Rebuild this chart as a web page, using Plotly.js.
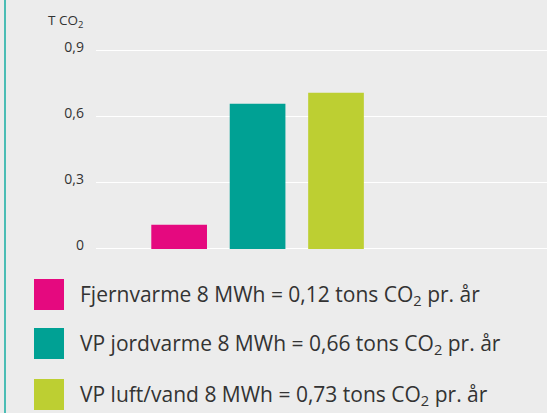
<!DOCTYPE html>
<html>
<head>
<meta charset="utf-8">
<script src="https://cdn.plot.ly/plotly-3.0.1.min.js"></script>
<style>
html,body{margin:0;padding:0;background:#ececec;}
#chart{width:547px;height:413px;}
</style>
</head>
<body>
<div id="chart"></div>
<script>
// Data
const categories = ["Fjernvarme", "VP jordvarme", "VP luft/vand"];
const values = [0.11, 0.66, 0.71];
const colors = ["#e5097f", "#00a194", "#bdcf32"];
const legendLabels = [
  "Fjernvarme 8 MWh = 0,12 tons CO<sub>2</sub> pr. år",
  "VP jordvarme 8 MWh = 0,66 tons CO<sub>2</sub> pr. år",
  "VP luft/vand 8 MWh = 0,73 tons CO<sub>2</sub> pr. år"
];
const tickVals = [0, 0.3, 0.6, 0.9];
const tickText = ["0", "0,3", "0,6", "0,9"];
const yTitle = "T CO<sub>2</sub>";

// Geometry helpers (pixel -> paper)
const W = 547, H = 413;
const mL = 96, mR = 0, mT = 40, mB = 163;
const pw = W - mL - mR, ph = H - mT - mB;
const px = x => (x - mL) / pw;
const py = y => (H - mB - y) / ph;

const FONT = "Open Sans, sans-serif";
const TXT = "#333333";

const trace = {
  type: "bar",
  x: categories.map((c, i) => i),
  y: values,
  width: 0.71,
  marker: { color: colors, line: { width: 0 } },
  hoverinfo: "skip",
  showlegend: false
};

const shapes = [];
const annotations = [];

// Left teal border
shapes.push({ type: "line", xref: "paper", yref: "paper",
  x0: px(5), x1: px(5), y0: py(0), y1: py(H),
  line: { color: "#4bbdb5", width: 2 } });

// Y title
annotations.push({ xref: "paper", yref: "paper", x: px(85), y: py(21),
  xanchor: "right", yanchor: "middle", showarrow: false,
  text: yTitle, font: { family: FONT, size: 13.5, color: TXT } });

// Legend
const rowCenters = [294.5, 343.5, 394.5];
legendLabels.forEach((lab, i) => {
  const cy = rowCenters[i];
  shapes.push({ type: "rect", xref: "paper", yref: "paper",
    x0: px(34), x1: px(64), y0: py(cy - 15.5), y1: py(cy + 15.5),
    fillcolor: colors[i], line: { width: 0 } });
  annotations.push({ xref: "paper", yref: "paper", x: px(78), y: py(cy),
    xanchor: "left", yanchor: "middle", showarrow: false,
    text: lab, font: { family: FONT, size: 21, color: TXT } });
});

const layout = {
  width: W, height: H,
  margin: { l: mL, r: mR, t: mT, b: mB, pad: 0 },
  paper_bgcolor: "#ececec",
  plot_bgcolor: "#ececec",
  font: { family: FONT, color: TXT, size: 12 },
  xaxis: {
    range: [-1.06, 4.69],
    showgrid: false, zeroline: false, showline: false,
    showticklabels: false, ticks: "", fixedrange: true
  },
  yaxis: {
    range: [-0.005, 0.95],
    tickvals: tickVals, ticktext: tickText,
    showgrid: true, gridcolor: "#ffffff", gridwidth: 1,
    zeroline: false, showline: false, ticks: "",
    ticklabelstandoff: 11,
    ticklabelshift: -4,
    tickfont: { family: FONT, size: 14, color: TXT },
    fixedrange: true
  },
  shapes: shapes,
  annotations: annotations,
  showlegend: false
};

Plotly.newPlot("chart", [trace], layout, { displayModeBar: false, staticPlot: true });
</script>
</body>
</html>
